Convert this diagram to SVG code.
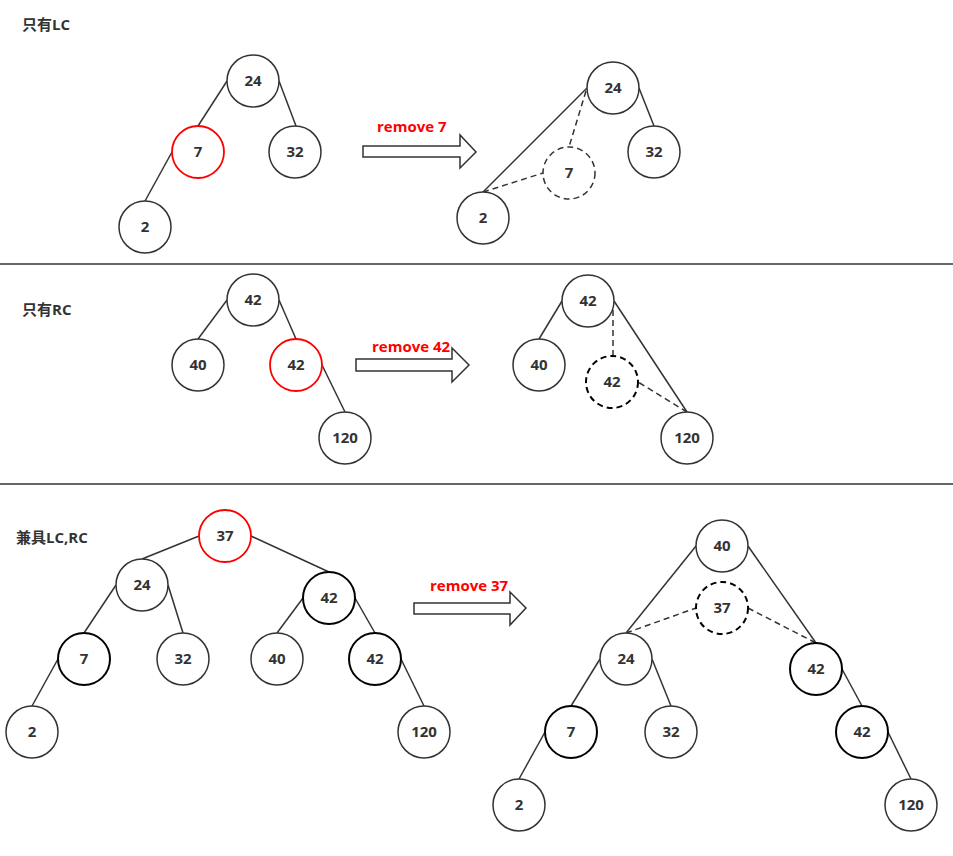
<svg xmlns="http://www.w3.org/2000/svg" width="953" height="856" viewBox="0 0 953 856">
<style>
.n{fill:#fff;stroke:#333;stroke-width:1.5}
.r{fill:#fff;stroke:#ff0000;stroke-width:1.8}
.b{fill:#fff;stroke:#000;stroke-width:2}
.d{fill:#fff;stroke:#333;stroke-width:1.5;stroke-dasharray:6 4}
.db{fill:#fff;stroke:#000;stroke-width:2;stroke-dasharray:6 4}
.t{font-family:"Open Sans","Noto Sans CJK SC",sans-serif;font-weight:bold;font-size:15px;fill:#333;text-anchor:middle}
.lab{font-family:"Open Sans","Noto Sans CJK SC",sans-serif;font-weight:bold;font-size:15px;fill:#333}
.rm{font-family:"Open Sans","Noto Sans CJK SC",sans-serif;font-weight:bold;font-size:15px;fill:#ff0000}
.e{stroke:#333;stroke-width:1.5;fill:none}
.ed{stroke:#333;stroke-width:1.5;fill:none;stroke-dasharray:6 4}
.ar{fill:#fff;stroke:#333;stroke-width:1.5}
.sep{stroke:#333;stroke-width:1.5}
</style>
<rect width="953" height="856" fill="#fff"/>
<g id="separators">
<line class="sep" x1="0" y1="264" x2="953" y2="264"/>
<line class="sep" x1="0" y1="484" x2="953" y2="484"/>
</g>
<g id="labels">
<text class="lab" x="22" y="30">只有LC</text>
<text class="lab" x="22" y="315">只有RC</text>
<text class="lab" x="16" y="543">兼具LC,RC</text>
</g>
<g id="connectors">
<line class="e" x1="227" y1="81" x2="198" y2="126"/>
<line class="e" x1="279" y1="81" x2="296" y2="126"/>
<line class="e" x1="172" y1="152" x2="145" y2="201"/>
<line class="e" x1="587" y1="88" x2="483" y2="192"/>
<line class="e" x1="639" y1="88" x2="654" y2="126"/>
<line class="ed" x1="586" y1="91" x2="569" y2="147"/>
<line class="ed" x1="483" y1="192" x2="543" y2="173"/>
<line class="e" x1="227" y1="300" x2="198" y2="339"/>
<line class="e" x1="279" y1="300" x2="296" y2="339"/>
<line class="e" x1="322" y1="365" x2="345" y2="412"/>
<line class="e" x1="562" y1="301" x2="539" y2="339"/>
<line class="e" x1="614" y1="301" x2="687" y2="412"/>
<line class="ed" x1="613" y1="310" x2="613" y2="356"/>
<line class="ed" x1="687" y1="412" x2="638" y2="382"/>
<line class="e" x1="199" y1="536" x2="142" y2="559"/>
<line class="e" x1="251" y1="536" x2="329" y2="572"/>
<line class="e" x1="116" y1="585" x2="84" y2="633"/>
<line class="e" x1="168" y1="585" x2="183" y2="633"/>
<line class="e" x1="303" y1="598" x2="277" y2="633"/>
<line class="e" x1="355" y1="598" x2="375" y2="633"/>
<line class="e" x1="58" y1="659" x2="32" y2="706"/>
<line class="e" x1="401" y1="659" x2="424" y2="706"/>
<line class="e" x1="696" y1="546" x2="626" y2="633"/>
<line class="e" x1="748" y1="546" x2="816" y2="643"/>
<line class="ed" x1="626" y1="633" x2="696" y2="608"/>
<line class="ed" x1="748" y1="608" x2="816" y2="643"/>
<line class="e" x1="600" y1="659" x2="571" y2="706"/>
<line class="e" x1="652" y1="659" x2="671" y2="706"/>
<line class="e" x1="842" y1="669" x2="862" y2="706"/>
<line class="e" x1="545" y1="732" x2="519" y2="779"/>
<line class="e" x1="888" y1="732" x2="911" y2="779"/>
</g>
<g id="arrow1">
<path class="ar" d="M363,146 H460 V135 L476,152 L460,168 V157 H363 Z"/>
<text class="rm" x="377" y="132">remove 7</text>
</g>
<g id="arrow2">
<path class="ar" d="M356,359 H452 V348 L469,365 L452,382 V371 H356 Z"/>
<text class="rm" x="372" y="352">remove 42</text>
</g>
<g id="arrow3">
<path class="ar" d="M414,603 H510 V592 L526,608 L510,625 V614 H414 Z"/>
<text class="rm" x="430" y="591">remove 37</text>
</g>
<g id="s1l-24"><circle class="n" cx="253" cy="81" r="26"/><text class="t" x="253" y="86">24</text></g>
<g id="s1l-7"><circle class="r" cx="198" cy="152" r="26"/><text class="t" x="198" y="157">7</text></g>
<g id="s1l-32"><circle class="n" cx="295" cy="152" r="26"/><text class="t" x="295" y="157">32</text></g>
<g id="s1l-2"><circle class="n" cx="145" cy="227" r="26"/><text class="t" x="145" y="232">2</text></g>
<g id="s1r-24"><circle class="n" cx="613" cy="88" r="26"/><text class="t" x="613" y="93">24</text></g>
<g id="s1r-32"><circle class="n" cx="654" cy="152" r="26"/><text class="t" x="654" y="157">32</text></g>
<g id="s1r-7"><circle class="d" cx="569" cy="173" r="26"/><text class="t" x="569" y="178">7</text></g>
<g id="s1r-2"><circle class="n" cx="483" cy="218" r="26"/><text class="t" x="483" y="223">2</text></g>
<g id="s2l-42"><circle class="n" cx="253" cy="300" r="26"/><text class="t" x="253" y="305">42</text></g>
<g id="s2l-40"><circle class="n" cx="198" cy="365" r="26"/><text class="t" x="198" y="370">40</text></g>
<g id="s2l-42r"><circle class="r" cx="296" cy="365" r="26"/><text class="t" x="296" y="370">42</text></g>
<g id="s2l-120"><circle class="n" cx="345" cy="438" r="26"/><text class="t" x="345" y="443">120</text></g>
<g id="s2r-42"><circle class="n" cx="588" cy="301" r="26"/><text class="t" x="588" y="306">42</text></g>
<g id="s2r-40"><circle class="n" cx="539" cy="365" r="26"/><text class="t" x="539" y="370">40</text></g>
<g id="s2r-42d"><circle class="db" cx="612" cy="382" r="26"/><text class="t" x="612" y="387">42</text></g>
<g id="s2r-120"><circle class="n" cx="687" cy="438" r="26"/><text class="t" x="687" y="443">120</text></g>
<g id="s3l-37"><circle class="r" cx="225" cy="536" r="26"/><text class="t" x="225" y="541">37</text></g>
<g id="s3l-24"><circle class="n" cx="142" cy="585" r="26"/><text class="t" x="142" y="590">24</text></g>
<g id="s3l-42a"><circle class="b" cx="329" cy="598" r="26"/><text class="t" x="329" y="603">42</text></g>
<g id="s3l-7"><circle class="b" cx="84" cy="659" r="26"/><text class="t" x="84" y="664">7</text></g>
<g id="s3l-32"><circle class="n" cx="183" cy="659" r="26"/><text class="t" x="183" y="664">32</text></g>
<g id="s3l-40"><circle class="n" cx="277" cy="659" r="26"/><text class="t" x="277" y="664">40</text></g>
<g id="s3l-42b"><circle class="b" cx="375" cy="659" r="26"/><text class="t" x="375" y="664">42</text></g>
<g id="s3l-2"><circle class="n" cx="32" cy="732" r="26"/><text class="t" x="32" y="737">2</text></g>
<g id="s3l-120"><circle class="n" cx="424" cy="732" r="26"/><text class="t" x="424" y="737">120</text></g>
<g id="s3r-40"><circle class="n" cx="722" cy="546" r="26"/><text class="t" x="722" y="551">40</text></g>
<g id="s3r-37"><circle class="db" cx="722" cy="608" r="26"/><text class="t" x="722" y="613">37</text></g>
<g id="s3r-24"><circle class="n" cx="626" cy="659" r="26"/><text class="t" x="626" y="664">24</text></g>
<g id="s3r-42a"><circle class="b" cx="816" cy="669" r="26"/><text class="t" x="816" y="674">42</text></g>
<g id="s3r-7"><circle class="b" cx="571" cy="732" r="26"/><text class="t" x="571" y="737">7</text></g>
<g id="s3r-32"><circle class="n" cx="671" cy="732" r="26"/><text class="t" x="671" y="737">32</text></g>
<g id="s3r-42b"><circle class="b" cx="862" cy="732" r="26"/><text class="t" x="862" y="737">42</text></g>
<g id="s3r-2"><circle class="n" cx="519" cy="805" r="26"/><text class="t" x="519" y="810">2</text></g>
<g id="s3r-120"><circle class="n" cx="911" cy="805" r="26"/><text class="t" x="911" y="810">120</text></g>
</svg>
